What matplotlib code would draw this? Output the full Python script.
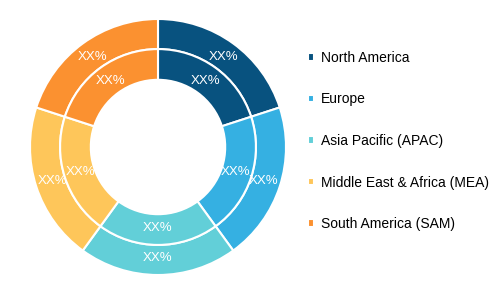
import numpy as np
import matplotlib.pyplot as plt

regions = ['North America', 'Europe', 'Asia Pacific (APAC)',
           'Middle East & Africa (MEA)', 'South America (SAM)']
outer_share = [20, 20, 20, 20, 20]
inner_share = [20, 20, 20, 20, 20]
labels = ['XX%'] * 5
colors = ['#08527f', '#35b0e2', '#62cfd8', '#fec65a', '#fb9130']

plt.rcParams['font.family'] = ['Liberation Sans', 'DejaVu Sans']

fig = plt.figure(figsize=(5, 2.91), dpi=100)
fig.patch.set_facecolor('white')

# donut axes: centre at (158,147) px, radius 128 px
ax = fig.add_axes([30 / 500, 16 / 291, 256 / 500, 256 / 291])

wedges, _ = ax.pie(outer_share, radius=1.0, colors=colors, startangle=90,
                   counterclock=False,
                   wedgeprops=dict(width=0.235, edgecolor='white', linewidth=1.5))
ax.pie(inner_share, radius=0.765, colors=colors, startangle=90,
       counterclock=False,
       wedgeprops=dict(width=0.24, edgecolor='white', linewidth=1.5))


# value labels placed at wedge mid-angles
def put_labels(shares, r):
    start = 90.0
    total = sum(shares)
    for s, lab in zip(shares, labels):
        mid = np.deg2rad(start - 360 * s / total / 2)
        ax.text(r * np.cos(mid), r * np.sin(mid), lab, ha='center', va='center',
                color='white', fontsize=9.5)
        start -= 360 * s / total


put_labels(outer_share, 0.87)
put_labels(inner_share, 0.635)

ax.set_xlim(-1, 1)
ax.set_ylim(-1, 1)
ax.set_aspect('equal')
ax.axis('off')

fig.legend(wedges, regions, loc='upper left',
           bbox_to_anchor=(308 / 500, 1 - 51 / 291),
           frameon=False, fontsize=10, handlelength=0.42, handleheight=0.42,
           handletextpad=0.5, labelspacing=1.98, borderpad=0, borderaxespad=0)

plt.savefig('out.png', dpi=100, facecolor='white')
